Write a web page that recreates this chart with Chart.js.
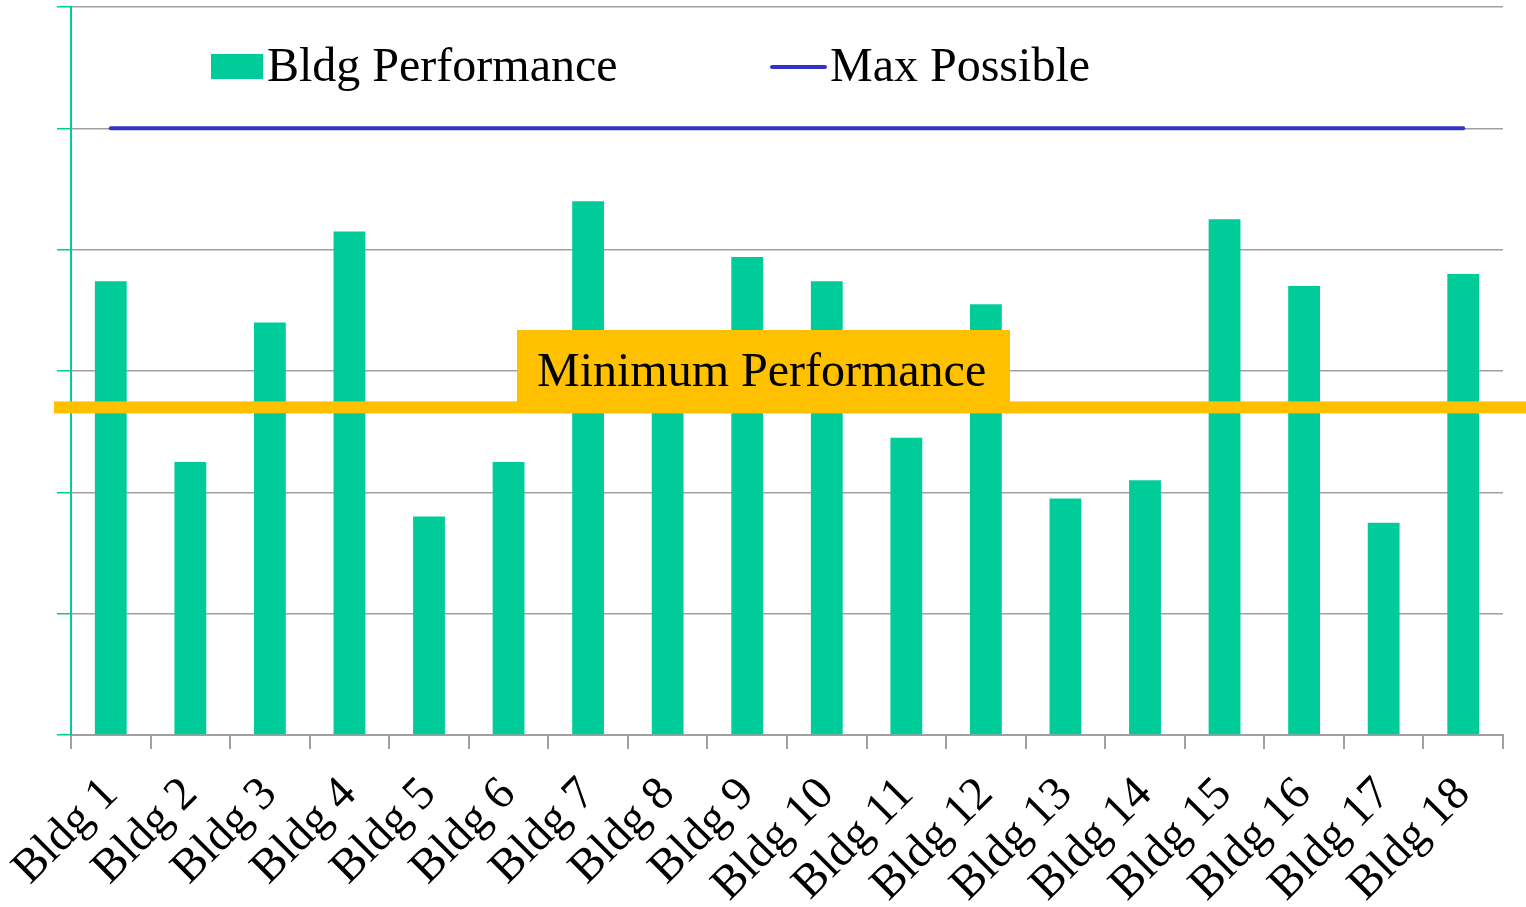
<!DOCTYPE html>
<html>
<head>
<meta charset="utf-8">
<script src="https://cdn.jsdelivr.net/npm/chart.js@4"></script>
<style>
  html, body { margin: 0; padding: 0; background: #fff; }
  #wrap { width: 1526px; height: 907px; }
</style>
</head>
<body>
<div id="wrap"><canvas id="chart" width="1526" height="907"></canvas></div>
<script>
const buildings = ['Bldg 1', 'Bldg 2', 'Bldg 3', 'Bldg 4', 'Bldg 5', 'Bldg 6', 'Bldg 7', 'Bldg 8', 'Bldg 9',
  'Bldg 10', 'Bldg 11', 'Bldg 12', 'Bldg 13', 'Bldg 14', 'Bldg 15', 'Bldg 16', 'Bldg 17', 'Bldg 18'];
const bldgPerformance = [3.74, 2.25, 3.4, 4.15, 1.8, 2.25, 4.4, 3.1, 3.94, 3.74, 2.45, 3.55, 1.95, 2.1, 4.25, 3.7, 1.75, 3.8];
const maxPossible = [5, 5, 5, 5, 5, 5, 5, 5, 5, 5, 5, 5, 5, 5, 5, 5, 5, 5];
const minPerformance = 2.7;
const minLabel = 'Minimum Performance';

const serif = "'Liberation Serif', 'Times New Roman', serif";
const GREEN = '#00CC99';
const BLUE = '#3333CC';
const ORANGE = '#FFC000';
const GRID = '#A0A0A0';

// legend drawn inside the plot area, like the original
const insideLegend = {
  id: 'insideLegend',
  afterDraw(chart) {
    const ctx = chart.ctx;
    const ds = chart.data.datasets;
    ctx.save();
    ctx.font = '48px ' + serif;
    ctx.textBaseline = 'middle';
    // bars
    ctx.fillStyle = ds[0].backgroundColor;
    ctx.fillRect(211, 54, 52, 25);
    ctx.fillStyle = '#000';
    ctx.fillText(ds[0].label, 267, 68);
    // line
    ctx.strokeStyle = ds[1].borderColor;
    ctx.lineWidth = 4;
    ctx.lineCap = 'round';
    ctx.beginPath();
    ctx.moveTo(772, 67);
    ctx.lineTo(825, 67);
    ctx.stroke();
    ctx.fillText(ds[1].label, 830, 68);
    ctx.restore();
  }
};

const minLine = {
  id: 'minLine',
  afterDatasetsDraw(chart) {
    const ctx = chart.ctx;
    const y = chart.scales.y.getPixelForValue(minPerformance);
    ctx.save();
    ctx.fillStyle = ORANGE;
    ctx.fillRect(54, y - 6, chart.width - 54, 12);
    ctx.fillRect(517, 330, 493, y - 330);
    ctx.fillStyle = '#000';
    ctx.font = '48px ' + serif;
    ctx.textBaseline = 'alphabetic';
    ctx.fillText(minLabel, 537, 386);
    ctx.restore();
  }
};

new Chart(document.getElementById('chart'), {
  data: {
    labels: buildings,
    datasets: [
      {
        type: 'bar',
        label: 'Bldg Performance',
        data: bldgPerformance,
        backgroundColor: GREEN,
        barPercentage: 0.4,
        categoryPercentage: 1.0,
        order: 1
      },
      {
        type: 'line',
        label: 'Max Possible',
        data: maxPossible,
        borderColor: BLUE,
        borderWidth: 4,
        borderCapStyle: 'round',
        pointRadius: 0,
        fill: false,
        order: 0
      }
    ]
  },
  options: {
    responsive: false,
    animation: false,
    layout: { padding: { top: 7, right: 23, left: 0, bottom: 0 } },
    plugins: {
      legend: { display: false },
      tooltip: { enabled: false }
    },
    scales: {
      x: {
        offset: true,
        grid: { drawOnChartArea: false, color: GRID, tickColor: GRID, tickLength: 14, lineWidth: 2, offset: true },
        border: { color: GRID, width: 2 },
        ticks: {
          autoSkip: false,
          minRotation: 45,
          maxRotation: 45,
          padding: 18,
          color: '#000',
          font: { family: serif, size: 47 }
        },
        afterFit(scale) { scale.height = 172; }
      },
      y: {
        min: 0,
        max: 6,
        ticks: { stepSize: 1, display: false },
        grid: { color: GRID, tickColor: GREEN, tickLength: 14, lineWidth: 1.5 },
        border: { color: GREEN, width: 2 },
        afterFit(scale) { scale.width = 71; }
      }
    }
  },
  plugins: [minLine, insideLegend]
});
</script>
</body>
</html>
